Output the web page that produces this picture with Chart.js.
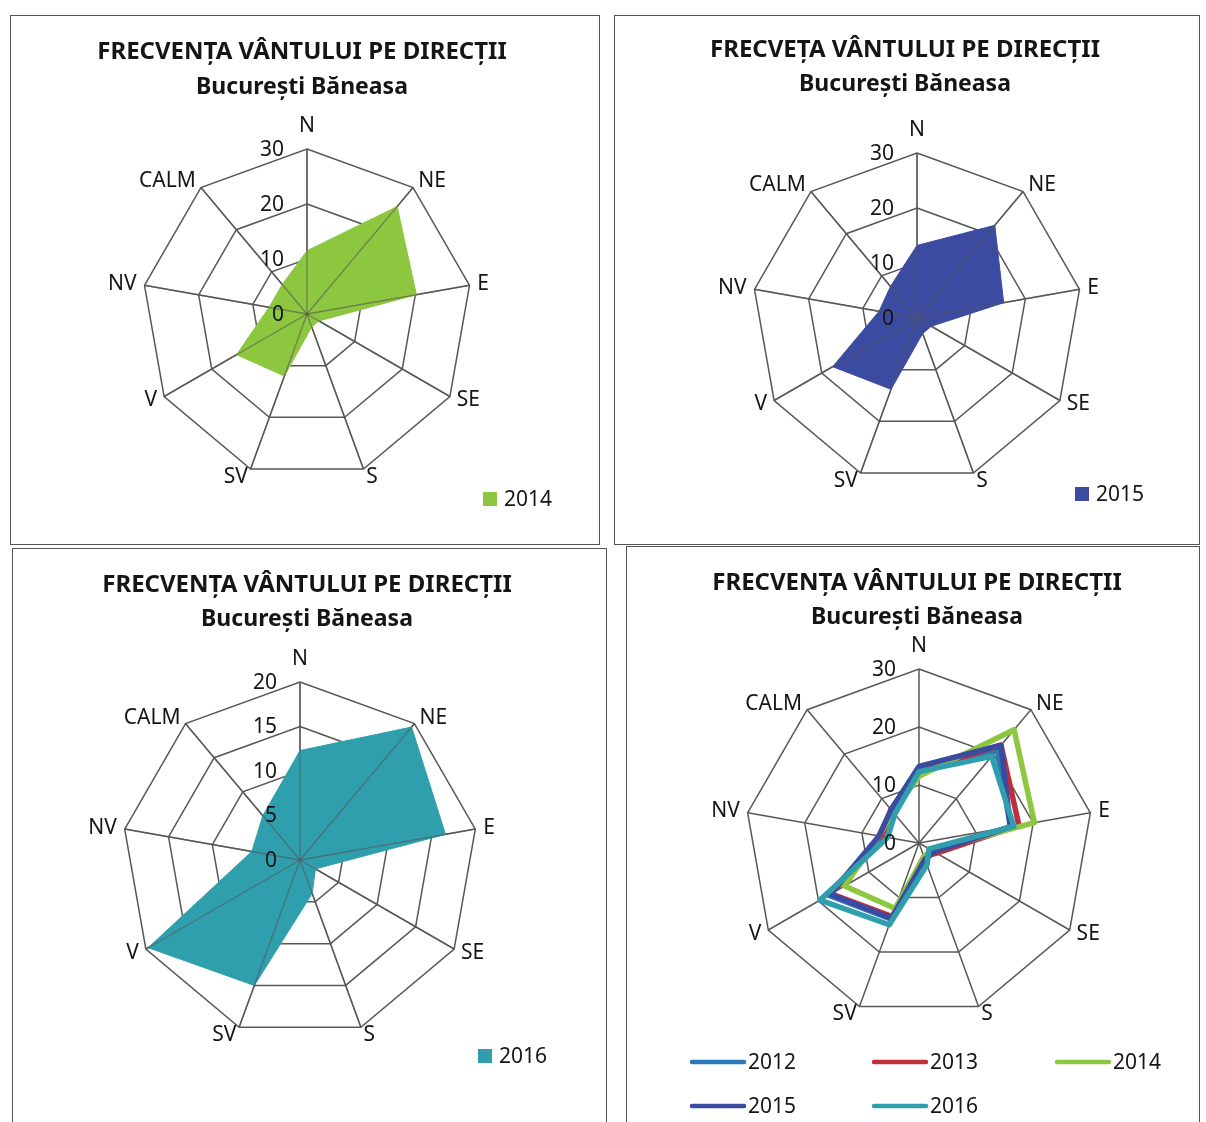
<!DOCTYPE html>
<html>
<head>
<meta charset="utf-8">
<script src="https://cdn.jsdelivr.net/npm/chart.js@4.4.1/dist/chart.umd.min.js"></script>
<style>
  body { margin: 0; background: #fff; }
  #page { position: relative; width: 1206px; height: 1122px; overflow: hidden; background: #fff; }
  .box { position: absolute; border: 1.5px solid #555; box-sizing: border-box; }
  canvas { position: absolute; }
</style>
</head>
<body>
<div id="page"></div>
<script>
// directii si frecvente (%)
const directions = ['N', 'NE', 'E', 'SE', 'S', 'SV', 'V', 'NV', 'CALM'];
const years = ['2012', '2013', '2014', '2015', '2016'];
const freq2012 = [13, 21, 16, 3, 3, 14, 18, 6.5, 7.5];
const freq2013 = [12.5, 22, 17.5, 3.5, 2.5, 13.5, 17.5, 6.5, 7.5];
const freq2014 = [11.5, 25.5, 20.2, 2.5, 2.5, 12, 14.8, 7, 7];
const freq2015 = [13.2, 22, 16, 3, 3, 13.8, 17.7, 7, 7.5];
const freq2016 = [12.3, 19.5, 16.6, 2, 4, 15, 19.7, 5.5, 6.5];
const ticks30 = [0, 10, 20, 30];
const ticks20 = [0, 5, 10, 15, 20];

const colors = {
  2012: '#2a7ab8',
  2013: '#c0303c',
  2014: '#8dc63f',
  2015: '#3b4ba2',
  2016: '#2f9fae'
};

const titleTop = ['FRECVENȚA VÂNTULUI PE DIRECȚII', 'București Băneasa'];
const titleTopTypo = ['FRECVEȚA VÂNTULUI PE DIRECȚII', 'București Băneasa'];

const decor = {
  id: 'decor',
  afterDatasetsDraw(chart, args, o) {
    if (!o.spokes) return;
    const r = chart.scales.r, ctx = chart.ctx;
    ctx.save();
    ctx.strokeStyle = 'rgba(85,85,85,0.6)';
    ctx.lineWidth = 1.3;
    for (let i = 0; i < chart.data.labels.length; i++) {
      const p = r.getPointPosition(i, r.drawingArea);
      ctx.beginPath();
      ctx.moveTo(r.xCenter, r.yCenter);
      ctx.lineTo(p.x, p.y);
      ctx.stroke();
    }
    ctx.restore();
  },
  afterDraw(chart, args, o) {
    const r = chart.scales.r, ctx = chart.ctx;
    ctx.save();
    ctx.fillStyle = '#151515';
    ctx.textBaseline = 'middle';

    // etichete directii
    ctx.font = '21px "Noto Sans"';
    chart.data.labels.forEach((lab, i) => {
      const p = r.getPointPosition(i, r.drawingArea + 8);
      let align = 'center', y = p.y;
      if (p.x > r.xCenter + 1) align = 'left';
      else if (p.x < r.xCenter - 1) align = 'right';
      else y = p.y - 15;
      ctx.textAlign = align;
      ctx.fillText(lab, p.x, y);
    });

    // valori pe axa
    ctx.textAlign = 'right';
    o.tickLabels.forEach(v => {
      const d = r.getDistanceFromCenterForValue(v);
      ctx.fillText(String(v), r.xCenter - 23, r.yCenter - d + 1);
    });

    // titlu + legenda, in coordonate de pagina
    ctx.translate(-o.box.x, -o.box.y);
    ctx.textAlign = 'center';
    o.title.forEach((t, k) => {
      ctx.font = 'bold ' + (k === 0 ? 24 : 23) + 'px "Noto Sans"';
      ctx.fillText(t, o.titleX, o.titleY[k]);
    });

    ctx.font = '21px "Noto Sans"';
    ctx.textAlign = 'left';
    chart.data.datasets.forEach((ds, k) => {
      const it = o.legend[k];
      if (!it) return;
      if (o.lineLegend) {
        ctx.strokeStyle = ds.borderColor;
        ctx.lineWidth = 4.5;
        ctx.lineCap = 'round';
        ctx.beginPath();
        ctx.moveTo(it.x, it.y);
        ctx.lineTo(it.x + 52, it.y);
        ctx.stroke();
        ctx.fillStyle = '#151515';
        ctx.fillText(ds.label, it.x + 56, it.y + 1);
      } else {
        ctx.fillStyle = ds.backgroundColor;
        ctx.fillRect(it.x, it.y - 7, 14, 14);
        ctx.fillStyle = '#151515';
        ctx.fillText(ds.label, it.x + 21, it.y + 1);
      }
    });
    ctx.restore();
  }
};

function makePanel(p) {
  const page = document.getElementById('page');
  const box = document.createElement('div');
  box.className = 'box';
  box.style.left = p.box.x + 'px';
  box.style.top = p.box.y + 'px';
  box.style.width = p.box.w + 'px';
  box.style.height = p.box.h + 'px';
  page.appendChild(box);

  const cv = document.createElement('canvas');
  cv.width = p.box.w;
  cv.height = p.box.h;
  cv.style.left = p.box.x + 'px';
  cv.style.top = p.box.y + 'px';
  page.appendChild(cv);

  const cx = p.cx - p.box.x, cy = p.cy - p.box.y;
  new Chart(cv, {
    type: 'radar',
    data: { labels: directions, datasets: p.datasets },
    options: {
      responsive: false,
      animation: false,
      devicePixelRatio: 1,
      layout: {
        padding: {
          left: cx - p.R,
          right: p.box.w - (cx + p.R),
          top: cy - p.R,
          bottom: p.box.h - (cy + p.R)
        }
      },
      elements: { point: { radius: 0, hoverRadius: 0 }, line: { tension: 0 } },
      plugins: {
        legend: { display: false },
        tooltip: { enabled: false },
        decor: {
          box: p.box,
          title: p.title,
          titleX: p.titleX,
          titleY: p.titleY,
          tickLabels: p.ticks,
          legend: p.legend,
          lineLegend: p.lineLegend,
          spokes: p.spokes
        }
      },
      scales: {
        r: {
          min: 0,
          max: p.ticks[p.ticks.length - 1],
          ticks: { stepSize: p.ticks[1], display: false },
          grid: { color: '#585858', lineWidth: 1.5 },
          angleLines: { color: '#585858', lineWidth: 1.5 },
          pointLabels: { display: false }
        }
      }
    },
    plugins: [decor]
  });
}

function areaSet(label, data, color) {
  return { label, data, fill: true, backgroundColor: color, borderColor: color, borderWidth: 1 };
}

makePanel({
  box: { x: 10, y: 15, w: 590, h: 530 }, cx: 307, cy: 314, R: 165, ticks: ticks30,
  title: titleTop, titleX: 302, titleY: [52, 87], spokes: true,
  datasets: [areaSet('2014', freq2014, colors[2014])],
  legend: [{ x: 483, y: 499 }]
});

makePanel({
  box: { x: 614, y: 15, w: 586, h: 530 }, cx: 917, cy: 318, R: 165, ticks: ticks30,
  title: titleTopTypo, titleX: 905, titleY: [50, 84], spokes: true,
  datasets: [areaSet('2015', freq2015, colors[2015])],
  legend: [{ x: 1075, y: 494 }]
});

makePanel({
  box: { x: 12, y: 548, w: 595, h: 580 }, cx: 300, cy: 860, R: 178, ticks: ticks20,
  title: titleTop, titleX: 307, titleY: [585, 619], spokes: true,
  datasets: [areaSet('2016', freq2016, colors[2016])],
  legend: [{ x: 478, y: 1056 }]
});

const allYears = [freq2012, freq2013, freq2014, freq2015, freq2016];
makePanel({
  box: { x: 626, y: 546, w: 574, h: 580 }, cx: 919, cy: 843, R: 174, ticks: ticks30,
  title: titleTop, titleX: 917, titleY: [583, 617], lineLegend: true,
  datasets: years.map((y, k) => ({
    label: y, data: allYears[k], fill: false,
    borderColor: colors[y], backgroundColor: colors[y],
    borderWidth: 5.5, borderJoinStyle: 'round', order: years.length - k
  })),
  legend: [
    { x: 692, y: 1062 }, { x: 874, y: 1062 }, { x: 1057, y: 1062 },
    { x: 692, y: 1106 }, { x: 874, y: 1106 }
  ]
});
</script>
</body>
</html>
